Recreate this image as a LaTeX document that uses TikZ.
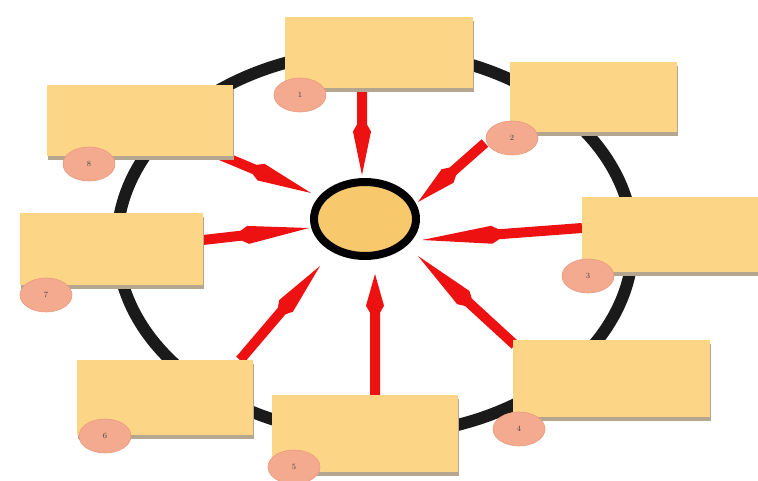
\documentclass[tikz,border=0pt]{standalone}
\usetikzlibrary{calc,shapes.geometric,shadows}
\definecolor{boxfill}{HTML}{FCD587}
\definecolor{shadowc}{HTML}{B5A78F}
\definecolor{labfill}{HTML}{F3AA8E}
\definecolor{labdraw}{HTML}{EA9A80}
\definecolor{arrred}{HTML}{EE1111}
\definecolor{hubfill}{HTML}{F8C86C}
\definecolor{ringc}{HTML}{1A1A1A}
\newcommand\redarr[3]{%
  \coordinate (m1) at ($(#1)!#3!(#2)$);
  \coordinate (m2) at ($(m1)!7pt!(#2)$);
  \fill[arrred] ($(#1)!5pt!90:(#2)$) -- ($(m1)!5pt!90:(#2)$) -- ($(m2)!9pt!90:(#2)$) -- (#2)
    -- ($(m2)!9pt!-90:(#2)$) -- ($(m1)!5pt!-90:(#2)$) -- ($(#1)!5pt!-90:(#2)$) -- cycle;}
\tikzset{
  box/.style={rectangle, fill=boxfill, draw=none, inner sep=0pt,
    drop shadow={shadow xshift=1pt, shadow yshift=-4pt, fill=shadowc, opacity=1}},
  lab/.style={ellipse, fill=labfill, draw=labdraw, line width=0.6pt, inner sep=0pt,
    minimum width=52pt, minimum height=34pt, text=black!75,
    font=\fontsize{8}{9}\selectfont},
  hub/.style={ellipse, fill=hubfill, draw=black, line width=8pt, inner sep=0pt}
}
\begin{document}
\begin{tikzpicture}[x=1pt,y=-1pt]
\useasboundingbox (0,0) rectangle (758,481);
\fill[white] (0,0) rectangle (758,481);
% outer ring
\draw[ringc, line width=12pt] (375,243) ellipse [x radius=258pt, y radius=192pt];
% arrow end points
\coordinate (a1) at (362,88);  \coordinate (t1) at (362,175);
\coordinate (a2) at (485,143); \coordinate (t2) at (418,202);
\coordinate (a3) at (582,228); \coordinate (t3) at (422,240);
\coordinate (a4) at (515,345); \coordinate (t4) at (418,256);
\coordinate (a5) at (375,395); \coordinate (t5) at (375,274);
\coordinate (a6) at (240,360); \coordinate (t6) at (320,266);
\coordinate (a7) at (203,240); \coordinate (t7) at (309,228);
\coordinate (a8) at (220,155); \coordinate (t8) at (311,193);
\redarr{a1}{t1}{0.42}
\redarr{a2}{t2}{0.48}
\redarr{a3}{t3}{0.52}
\redarr{a4}{t4}{0.48}
\redarr{a5}{t5}{0.68}
\redarr{a6}{t6}{0.52}
\redarr{a7}{t7}{0.36}
\redarr{a8}{t8}{0.38}
% hub
\node[hub, minimum width=102pt, minimum height=74pt] (hub) at (365,219) {};
% boxes
\node[box, minimum width=188pt, minimum height=71pt] (b1) at (379,52.5) {};
\node[box, minimum width=167pt, minimum height=70pt] (b2) at (593.5,97) {};
\node[box, minimum width=180pt, minimum height=75pt] (b3) at (672,234.5) {};
\node[box, minimum width=197pt, minimum height=77pt] (b4) at (611.5,378.5) {};
\node[box, minimum width=186pt, minimum height=77pt] (b5) at (365,433.5) {};
\node[box, minimum width=176pt, minimum height=75pt] (b6) at (165,397.5) {};
\node[box, minimum width=183pt, minimum height=72pt] (b7) at (111.5,249) {};
\node[box, minimum width=186pt, minimum height=71pt] (b8) at (140,120.5) {};
% number labels
\node[lab] (l1) at (300,95) {1};
\node[lab] (l2) at (512,138) {2};
\node[lab] (l3) at (588,276) {3};
\node[lab] (l4) at (519,429) {4};
\node[lab] (l5) at (294,467) {5};
\node[lab] (l6) at (105,436) {6};
\node[lab] (l7) at (46,295) {7};
\node[lab] (l8) at (89,164) {8};
\end{tikzpicture}
\end{document}
